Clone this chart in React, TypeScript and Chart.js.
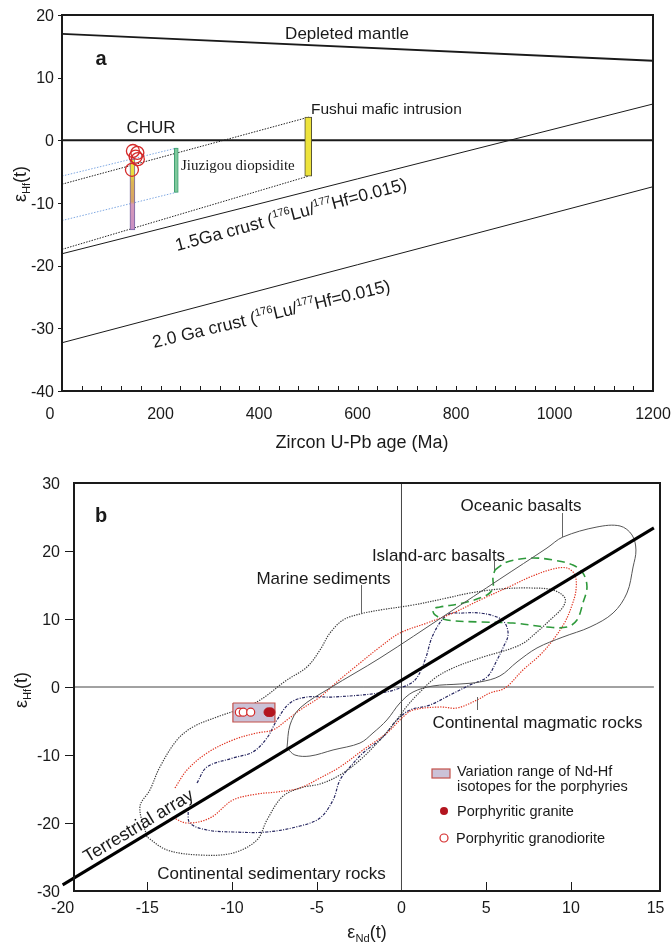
import React, { useEffect, useRef } from 'react';
import { Chart, registerables } from 'chart.js';
Chart.register(...registerables);

const SANS = '"Liberation Sans", Arial, Helvetica, sans-serif';
const SERIF = '"Liberation Serif", "Times New Roman", serif';
const INK = '#1a1a1a';

// ---------------- Panel a data ----------------
const ageTicks = [0, 200, 400, 600, 800, 1000, 1200];
const ageMinorStep = 40;
const hfTicksA = [20, 10, 0, -10, -20, -30, -40];

const depletedAge = [0, 1200];
const depletedEps = [17.0, 12.7];
const churAge = [0, 1200];
const churEps = [0, 0];
const crust15Age = [0, 1200];
const crust15Eps = [-18.1, 5.8];
const crust20Age = [0, 1200];
const crust20Eps = [-32.3, -7.4];
const fushuiUpperAge = [0, 501];
const fushuiUpperEps = [-7.0, 3.7];
const fushuiLowerAge = [0, 501];
const fushuiLowerEps = [-17.4, -5.7];
const jiuUpperAge = [0, 232];
const jiuUpperEps = [-5.7, -1.25];
const jiuLowerAge = [0, 232];
const jiuLowerEps = [-12.8, -8.3];

const porphyryAge = 143;
const porphyryRange = [-14.3, -3.0];
const jiuzigouAge = 232;
const jiuzigouRange = [-8.3, -1.25];
const fushuiAge = 500;
const fushuiRange = [-5.7, 3.7];

const zirconAges = [144, 153, 149.5, 154, 142];
const zirconEps = [-1.7, -2.0, -2.6, -3.0, -4.7];

// ---------------- Panel b data ----------------
const ndTicks = [-20, -15, -10, -5, 0, 5, 10, 15];
const ndInnerTicks = [-15, -10, -5, 5, 10];
const hfTicksB = [30, 20, 10, 0, -10, -20, -30];
const hfOuterTicksB = [20, 10, 0, -10, -20];

const terrestrialNd = [-20, 14.9];
const terrestrialHf = [-29.1, 23.4];
const zeroHNd = [-19.33, 14.9];
const zeroHHf = [0, 0];
const zeroVNd = [0, 0];
const zeroVHf = [-30, 30];

const boxNd = [-9.95, -7.47, -7.47, -9.95, -9.95];
const boxHf = [-2.35, -2.35, -5.15, -5.15, -2.35];
const granodioriteNd = [-9.57, -9.34, -8.9];
const granodioriteHf = [-3.7, -3.7, -3.7];
const graniteNd = [-7.86, -7.72];
const graniteHf = [-3.7, -3.7];

const marineNd = [-15.02, -15.44, -14.85, -14.26, -13.25, -12.31, -10.89, -8.65, -6.76, -5.58, -4.81, -4.22, -3.45, -2.45, -1.27, 0.68, 2.69, 4.04, 5.81, 7.59, 8.94, 9.65, 9.53, 8.77, 8.0, 7.0, 4.63, 3.04, 1.98, 1.09, 0.38, -0.38, -1.27, -2.45, -3.63, -4.81, -5.99, -7.05, -7.94, -8.53, -9.95, -11.89, -13.84, -15.02];
const marineHf = [-22.06, -17.65, -15.15, -11.76, -7.79, -5.88, -4.41, -2.35, 1.03, 2.94, 5.44, 7.94, 9.85, 10.74, 11.32, 12.06, 13.09, 13.82, 14.41, 14.56, 14.26, 13.09, 11.76, 9.85, 8.09, 6.18, 4.26, 2.79, 1.32, -0.74, -2.65, -5.15, -7.79, -10.74, -12.94, -14.26, -14.85, -16.18, -19.56, -22.5, -24.41, -24.71, -23.97, -22.06];

const oceanicNd = [-6.76, -6.58, -5.99, -4.22, -1.27, 2.69, 5.81, 8.59, 9.53, 11.54, 12.9, 13.61, 13.84, 13.67, 13.31, 12.49, 11.13, 9.53, 8.0, 6.82, 5.81, 4.63, 3.45, 1.86, 0.68, -0.09, -0.86, -1.68, -2.45, -4.04, -5.4, -6.29, -6.76];
const oceanicHf = [-8.97, -5.59, -3.09, -0.15, 4.26, 10.74, 15.88, 20.44, 22.06, 23.53, 23.68, 22.35, 20.15, 17.65, 13.82, 10.88, 8.82, 7.35, 5.74, 3.68, 1.62, 0.74, 0.44, 0.15, -0.74, -2.35, -4.85, -6.76, -8.24, -9.26, -10.15, -10.0, -8.97];

const islandArcNd = [5.52, 6.23, 7.59, 8.94, 10.12, 10.71, 10.95, 10.71, 10.36, 9.77, 8.59, 6.58, 4.63, 2.69, 1.98, 1.86, 2.27, 3.63, 5.05, 5.4, 5.4, 5.52];
const islandArcHf = [17.21, 18.38, 18.97, 18.68, 17.94, 16.76, 14.71, 12.35, 9.85, 8.82, 8.82, 9.41, 9.56, 9.85, 10.59, 11.47, 11.76, 12.35, 13.53, 14.56, 16.18, 17.21];

const magmaticNd = [-13.37, -12.66, -11.48, -9.95, -8.53, -7.59, -6.76, -5.99, -4.81, -3.81, -2.45, -1.27, -0.09, 1.51, 3.04, 4.63, 6.58, 7.59, 8.94, 9.77, 10.24, 10.3, 10.07, 9.65, 8.94, 8.18, 7.17, 6.11, 5.22, 4.46, 3.28, 2.27, 0.68, 0.09, -0.86, -2.27, -3.63, -4.81, -5.99, -7.35, -8.53, -9.95, -11.3, -12.66, -13.55];
const magmaticHf = [-14.85, -12.21, -9.71, -7.79, -6.76, -6.32, -4.85, -3.38, -1.47, 0.74, 3.53, 5.88, 7.94, 9.41, 10.88, 12.79, 15.0, 16.18, 17.35, 17.5, 16.47, 14.26, 12.06, 9.56, 6.91, 4.71, 2.5, -0.15, -0.88, -1.91, -3.09, -2.94, -3.38, -4.41, -6.76, -9.26, -11.76, -13.38, -14.85, -15.44, -15.74, -16.62, -19.26, -20.0, -19.12];

const sedimentaryNd = [-12.07, -11.48, -9.95, -8.77, -7.94, -7.35, -6.58, -5.58, -4.04, -1.27, -0.09, 0.8, 1.39, 1.86, 2.69, 3.63, 4.63, 5.64, 6.11, 6.29, 5.99, 5.64, 5.05, 4.04, 2.86, 1.68, 0.5, -0.27, -1.09, -2.27, -3.04, -3.63, -4.04, -4.81, -5.99, -7.94, -9.95, -11.48, -12.49, -12.6];
const sedimentaryHf = [-14.12, -11.76, -10.44, -9.56, -7.5, -4.85, -2.35, -1.47, -1.47, -0.88, -0.15, 1.03, 3.97, 7.65, 10.59, 10.88, 10.88, 10.29, 9.41, 7.65, 5.74, 3.97, 1.47, 0.29, -1.18, -2.65, -3.38, -4.85, -7.35, -9.71, -11.76, -13.68, -16.62, -19.26, -20.44, -21.32, -21.32, -21.03, -20.0, -18.09];

// ---------------- helpers ----------------
const pts = (xs: number[], ys: number[]) => xs.map((x, i) => ({ x, y: ys[i] }));

type Part = { t: string; s?: 'sup' | 'sub' };

function drawRich(
  ctx: CanvasRenderingContext2D,
  parts: Part[],
  x: number,
  y: number,
  size: number,
  o: { align?: 'left' | 'center' | 'right'; angle?: number; family?: string; weight?: string; middle?: boolean; color?: string } = {}
) {
  const family = o.family || SANS;
  const weight = o.weight ? o.weight + ' ' : '';
  const small = size * 0.62;
  const fontFor = (p: Part) => `${weight}${p.s ? small : size}px ${family}`;
  ctx.save();
  ctx.translate(x, y);
  if (o.angle) ctx.rotate((o.angle * Math.PI) / 180);
  ctx.fillStyle = o.color || INK;
  ctx.textBaseline = 'alphabetic';
  ctx.textAlign = 'left';
  let total = 0;
  for (const p of parts) {
    ctx.font = fontFor(p);
    total += ctx.measureText(p.t).width;
  }
  let cx = o.align === 'center' ? -total / 2 : o.align === 'right' ? -total : 0;
  const by = o.middle ? size * 0.36 : 0;
  for (const p of parts) {
    ctx.font = fontFor(p);
    const dy = p.s === 'sup' ? -size * 0.4 : p.s === 'sub' ? size * 0.2 : 0;
    ctx.fillText(p.t, cx, by + dy);
    cx += ctx.measureText(p.t).width;
  }
  ctx.restore();
}

function txt(ctx: CanvasRenderingContext2D, s: string, x: number, y: number, size: number, align: 'left' | 'center' | 'right', extra: any = {}) {
  drawRich(ctx, [{ t: s }], x, y, size, { align, middle: true, ...extra });
}

function seg(ctx: CanvasRenderingContext2D, x1: number, y1: number, x2: number, y2: number) {
  ctx.beginPath();
  ctx.moveTo(x1, y1);
  ctx.lineTo(x2, y2);
  ctx.stroke();
}

const lineDs = (xs: number[], ys: number[], color: string, width: number, dash: number[] = [], tension = 0, extra: any = {}) => ({
  type: 'line',
  data: pts(xs, ys),
  borderColor: color,
  borderWidth: width,
  borderDash: dash,
  pointRadius: 0,
  fill: false,
  tension,
  ...extra,
});

// ---------------- Panel a ----------------
const panelAPlugin = {
  id: 'panelA',
  afterDatasetsDraw(chart: any) {
    const { ctx, chartArea: a, scales } = chart;
    const x = scales.x, y = scales.y;
    ctx.save();
    ctx.strokeStyle = INK;
    ctx.lineWidth = 2;
    ctx.strokeRect(a.left, a.top, a.right - a.left, a.bottom - a.top);
    ctx.lineWidth = 1;
    for (let v = ageMinorStep; v < 1200; v += ageMinorStep) {
      const px = Math.round(x.getPixelForValue(v)) + 0.5;
      seg(ctx, px, a.bottom, px, a.bottom - 5);
    }
    for (const v of hfTicksA) {
      const py = Math.round(y.getPixelForValue(v)) + 0.5;
      seg(ctx, a.left - 4, py, a.left, py);
      txt(ctx, String(v), 54, y.getPixelForValue(v), 16, 'right');
    }
    for (const v of ageTicks) {
      const px = v === 0 ? 50 : x.getPixelForValue(v);
      txt(ctx, String(v), px, 413, 16, 'center');
    }
    txt(ctx, 'Zircon U-Pb age (Ma)', 362, 442, 18, 'center');
    drawRich(ctx, [{ t: 'ε' }, { t: 'Hf', s: 'sub' }, { t: '(t)' }], 20, 184, 18, { align: 'center', angle: -90, middle: true });
    txt(ctx, 'a', 101, 58, 20, 'center', { weight: 'bold' });
    txt(ctx, 'Depleted mantle', 347, 33, 17, 'center');
    txt(ctx, 'CHUR', 151, 127, 17, 'center');
    txt(ctx, 'Fushui mafic intrusion', 311, 108, 15.5, 'left');
    txt(ctx, 'Jiuzigou diopsidite', 181, 165, 15, 'left', { family: SERIF });
    drawRich(ctx, [{ t: '1.5Ga crust (' }, { t: '176', s: 'sup' }, { t: 'Lu/' }, { t: '177', s: 'sup' }, { t: 'Hf=0.015)' }], 177, 251, 17.5, { angle: -15 });
    drawRich(ctx, [{ t: '2.0 Ga crust (' }, { t: '176', s: 'sup' }, { t: 'Lu/' }, { t: '177', s: 'sup' }, { t: 'Hf=0.015)' }], 154, 348, 17.5, { angle: -13.5 });
    ctx.restore();
  },
};

function makeConfigA() {
  const porphyryFill = (c: any) => {
    const ch = c.chart;
    const ys = ch && ch.scales && ch.scales.y;
    if (!ys) return '#e3c84e';
    const y0 = ys.getPixelForValue(porphyryRange[1]);
    const y1 = ys.getPixelForValue(porphyryRange[0]);
    if (!isFinite(y0) || !isFinite(y1) || y0 === y1) return '#e3c84e';
    const g = ch.ctx.createLinearGradient(0, y0, 0, y1);
    g.addColorStop(0, '#efe43a');
    g.addColorStop(0.22, '#ebdc3c');
    g.addColorStop(0.32, '#ddb553');
    g.addColorStop(0.6, '#d6a26a');
    g.addColorStop(0.64, '#d69ab8');
    g.addColorStop(1, '#c98fc4');
    return g;
  };
  return {
    type: 'line',
    data: {
      datasets: [
        {
          type: 'line',
          data: pts(zirconAges, zirconEps),
          showLine: false,
          pointRadius: 6.5,
          pointBorderColor: '#d42a2a',
          pointBackgroundColor: 'rgba(0,0,0,0)',
          pointBorderWidth: 1.3,
        },
        { type: 'bar', data: [{ x: porphyryAge, y: porphyryRange }], barThickness: 5, backgroundColor: porphyryFill, borderColor: '#7566a6', borderWidth: 1, borderSkipped: false, stack: 'bars' },
        { type: 'bar', data: [{ x: jiuzigouAge, y: jiuzigouRange }], barThickness: 4, backgroundColor: '#80c99c', borderColor: '#3c9f72', borderWidth: 1, borderSkipped: false, stack: 'bars' },
        { type: 'bar', data: [{ x: fushuiAge, y: fushuiRange }], barThickness: 7, backgroundColor: '#ede33c', borderColor: '#4d4a35', borderWidth: 1, borderSkipped: false, stack: 'bars' },
        lineDs(churAge, churEps, INK, 2),
        lineDs(depletedAge, depletedEps, INK, 1.8),
        lineDs(crust15Age, crust15Eps, INK, 1),
        lineDs(crust20Age, crust20Eps, INK, 1),
        lineDs(fushuiUpperAge, fushuiUpperEps, '#222', 1, [1.5, 1.3]),
        lineDs(fushuiLowerAge, fushuiLowerEps, '#222', 1, [1.5, 1.3]),
        lineDs(jiuUpperAge, jiuUpperEps, '#7fa8e2', 1, [1.5, 1.5]),
        lineDs(jiuLowerAge, jiuLowerEps, '#7fa8e2', 1, [1.5, 1.5]),
      ],
    },
    options: {
      responsive: false,
      animation: false,
      devicePixelRatio: 1,
      events: [],
      layout: { padding: { left: 62, right: 18, top: 15, bottom: 69 } },
      scales: {
        x: { type: 'linear', min: 0, max: 1200, display: false, offset: false },
        y: { type: 'linear', min: -40, max: 20, display: false, stacked: false },
      },
      plugins: { legend: { display: false }, tooltip: { enabled: false }, title: { display: false } },
    },
    plugins: [panelAPlugin],
  };
}

// ---------------- Panel b ----------------
const panelBPlugin = {
  id: 'panelB',
  afterDatasetsDraw(chart: any) {
    const { ctx, chartArea: a, scales } = chart;
    const x = scales.x, y = scales.y;
    ctx.save();
    ctx.strokeStyle = INK;
    ctx.lineWidth = 2;
    ctx.strokeRect(a.left, a.top, a.right - a.left, a.bottom - a.top);
    ctx.lineWidth = 1;
    for (const v of ndInnerTicks) {
      const px = Math.round(x.getPixelForValue(v)) + 0.5;
      seg(ctx, px, a.bottom, px, a.bottom - 9);
    }
    for (const v of hfOuterTicksB) {
      const py = Math.round(y.getPixelForValue(v)) + 0.5;
      seg(ctx, a.left - 9, py, a.left, py);
    }
    for (const v of hfTicksB) txt(ctx, String(v), 60, y.getPixelForValue(v), 16, 'right');
    for (const v of ndTicks) txt(ctx, String(v), x.getPixelForValue(v), 447, 16, 'center');
    drawRich(ctx, [{ t: 'ε' }, { t: 'Nd', s: 'sub' }, { t: '(t)' }], 367, 472, 18, { align: 'center', middle: true });
    drawRich(ctx, [{ t: 'ε' }, { t: 'Hf', s: 'sub' }, { t: '(t)' }], 21, 230, 18, { align: 'center', angle: -90, middle: true });
    txt(ctx, 'b', 101, 55, 20, 'center', { weight: 'bold' });

    txt(ctx, 'Oceanic basalts', 521, 45, 17, 'center');
    txt(ctx, 'Island-arc basalts', 438.5, 95, 17, 'center');
    txt(ctx, 'Marine sediments', 323.5, 118, 17, 'center');
    txt(ctx, 'Continental magmatic rocks', 537.5, 262, 17, 'center');
    txt(ctx, 'Continental sedimentary rocks', 271.5, 413, 17, 'center');
    drawRich(ctx, [{ t: 'Terrestrial array' }], 138, 365, 18, { align: 'center', angle: -31, middle: true });

    ctx.strokeStyle = '#666';
    ctx.lineWidth = 1;
    seg(ctx, 562.5, 53, 562.5, 77);
    seg(ctx, 494.5, 100, 494.5, 110);
    seg(ctx, 361.5, 125, 361.5, 153);
    seg(ctx, 477.5, 237, 477.5, 250);

    // legend
    ctx.fillStyle = '#cbc2d7';
    ctx.fillRect(432, 309, 18, 9);
    ctx.strokeStyle = '#c4504a';
    ctx.lineWidth = 1.2;
    ctx.strokeRect(432, 309, 18, 9);
    txt(ctx, 'Variation range of Nd-Hf', 457, 311, 14.5, 'left');
    txt(ctx, 'isotopes for the porphyries', 457, 326, 14.5, 'left');
    ctx.fillStyle = '#b3151f';
    ctx.beginPath();
    ctx.arc(444, 351, 4, 0, Math.PI * 2);
    ctx.fill();
    txt(ctx, 'Porphyritic granite', 457, 351, 14.5, 'left');
    ctx.strokeStyle = '#d42a2a';
    ctx.fillStyle = '#fff';
    ctx.beginPath();
    ctx.arc(444, 378, 4, 0, Math.PI * 2);
    ctx.fill();
    ctx.stroke();
    txt(ctx, 'Porphyritic granodiorite', 456, 378, 14.5, 'left');
    ctx.restore();
  },
};

function makeConfigB() {
  return {
    type: 'line',
    data: {
      datasets: [
        { type: 'line', data: pts(graniteNd, graniteHf), showLine: false, pointRadius: 4.3, pointBorderColor: '#b3151f', pointBackgroundColor: '#b3151f', pointBorderWidth: 1 },
        { type: 'line', data: pts(granodioriteNd, granodioriteHf), showLine: false, pointRadius: 4, pointBorderColor: '#d42a2a', pointBackgroundColor: '#ffffff', pointBorderWidth: 1.2 },
        lineDs(boxNd, boxHf, '#c4504a', 1.2, [], 0, { fill: 'shape', backgroundColor: '#cbc2d7' }),
        lineDs(terrestrialNd, terrestrialHf, '#000', 3, [], 0, { clip: false }),
        lineDs(marineNd, marineHf, '#3c3c3c', 1.2, [1.3, 1.2], 0.35),
        lineDs(oceanicNd, oceanicHf, '#555', 1, [], 0.35),
        lineDs(islandArcNd, islandArcHf, '#2f9a3c', 1.6, [8, 5], 0.35),
        lineDs(magmaticNd, magmaticHf, '#e0321f', 1.2, [1.3, 1.3], 0.35),
        lineDs(sedimentaryNd, sedimentaryHf, '#25255f', 1.2, [3, 1.4, 1, 1.4], 0.35),
        lineDs(zeroHNd, zeroHHf, '#444', 1),
        lineDs(zeroVNd, zeroVHf, '#444', 1),
      ],
    },
    options: {
      responsive: false,
      animation: false,
      devicePixelRatio: 1,
      events: [],
      layout: { padding: { left: 74, right: 11, top: 23, bottom: 52 } },
      scales: {
        x: { type: 'linear', min: -19.33, max: 15.26, display: false, offset: false },
        y: { type: 'linear', min: -30, max: 30, display: false },
      },
      plugins: { legend: { display: false }, tooltip: { enabled: false }, title: { display: false } },
    },
    plugins: [panelBPlugin],
  };
}

export default function App() {
  const refA = useRef<HTMLCanvasElement>(null);
  const refB = useRef<HTMLCanvasElement>(null);
  useEffect(() => {
    document.body.style.margin = '0';
    const ca = new Chart(refA.current as HTMLCanvasElement, makeConfigA() as any);
    const cb = new Chart(refB.current as HTMLCanvasElement, makeConfigB() as any);
    return () => {
      ca.destroy();
      cb.destroy();
    };
  }, []);
  return (
    <div style={{ position: 'absolute', left: 0, top: 0, width: 671, height: 943, background: '#fff' }}>
      <canvas ref={refA} width={671} height={460} style={{ position: 'absolute', left: 0, top: 0, width: 671, height: 460 }} />
      <canvas ref={refB} width={671} height={483} style={{ position: 'absolute', left: 0, top: 460, width: 671, height: 483 }} />
    </div>
  );
}
